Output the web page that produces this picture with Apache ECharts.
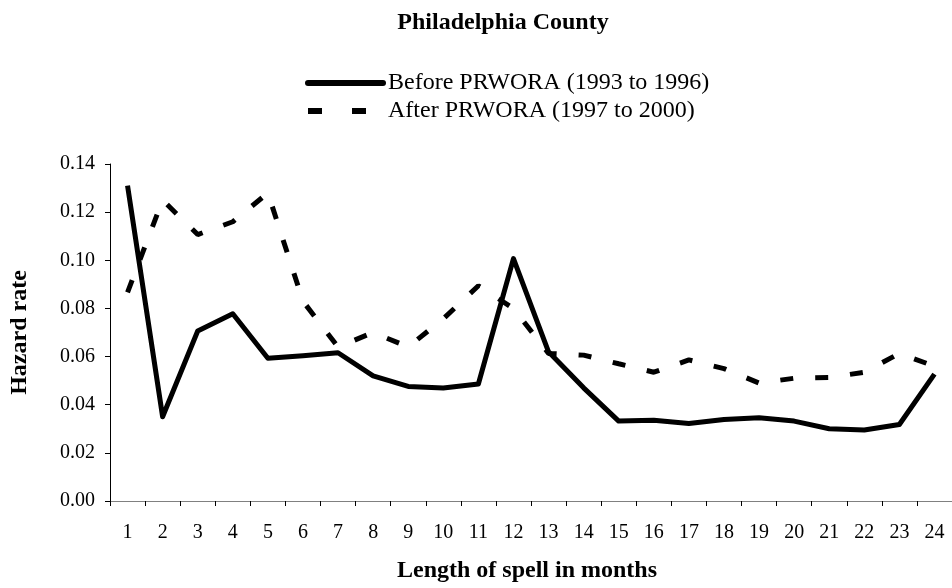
<!DOCTYPE html>
<html>
<head>
<meta charset="utf-8">
<script src="https://cdn.jsdelivr.net/npm/echarts@6/dist/echarts.min.js"></script>
<style>
html,body{margin:0;padding:0;background:#fff;}
#main{width:952px;height:588px;}
</style>
</head>
<body>
<div id="main"></div>
<script>
var months = ['1','2','3','4','5','6','7','8','9','10','11','12','13','14','15','16','17','18','19','20','21','22','23','24'];
var beforeName = 'Before PRWORA (1993 to 1996)';
var afterName = 'After PRWORA (1997 to 2000)';
var beforeRate = [0.131, 0.035, 0.0706, 0.0778, 0.0593, 0.0603, 0.0616, 0.052, 0.0476, 0.0469, 0.0486, 0.1007,
	0.062, 0.047, 0.0332, 0.0335, 0.0322, 0.0339, 0.0346, 0.0332, 0.030, 0.0295, 0.0318, 0.0527];
var afterRate = [0.0867, 0.125, 0.1107, 0.116, 0.128, 0.083, 0.064, 0.070, 0.064, 0.0757, 0.0894, 0.080,
	0.0613, 0.0606, 0.057, 0.0535, 0.0586, 0.055, 0.049, 0.051, 0.0513, 0.0535, 0.0613, 0.056];

var serif = '"Liberation Serif", "Times New Roman", serif';
// legend symbol hidden, only the line sample is kept
var noMark = {color: 'rgba(0,0,0,0)', borderWidth: 0, opacity: 0};
var chart = echarts.init(document.getElementById('main'));
var option = {
	backgroundColor: '#fff',
	animation: false,
	title: {
		text: 'Philadelphia County',
		left: 498,
		textAlign: 'center',
		top: 6,
		textStyle: {
			fontFamily: serif,
			fontSize: 24,
			fontWeight: 'bold',
			color: '#000'
		}
	},
	legend: {
		orient: 'vertical',
		left: 300,
		top: 66,
		itemWidth: 75,
		itemHeight: 14,
		itemGap: 4,
		textStyle: {
			fontFamily: serif,
			fontSize: 24,
			color: '#000'
		},
		data: [
			{name: beforeName, itemStyle: noMark, lineStyle: {width: 6, type: 'solid', cap: 'round'}},
			{name: afterName, itemStyle: noMark, lineStyle: {width: 6, type: [14, 30], cap: 'butt'}}
		]
	},
	grid: {
		left: 109,
		top: 164,
		width: 852,
		height: 340
	},
	xAxis: {
		type: 'category',
		data: months,
		boundaryGap: true,
		name: 'Length of spell in months',
		nameLocation: 'middle',
		nameGap: 58,
		nameTextStyle: {
			fontFamily: serif,
			fontSize: 24,
			fontWeight: 'bold',
			color: '#000',
			padding: [0, 8, 0, 0]
		},
		axisLine: {lineStyle: {color: '#808080', width: 1}},
		axisTick: {show: true, length: 5, lineStyle: {color: '#000'}},
		axisLabel: {
			margin: 22,
			fontFamily: serif,
			fontSize: 20,
			color: '#000'
		},
		splitLine: {show: false}
	},
	yAxis: {
		type: 'value',
		min: 0,
		max: 0.14,
		interval: 0.02,
		name: 'Hazard rate',
		nameLocation: 'middle',
		nameRotate: 90,
		nameGap: 78,
		nameTextStyle: {
			fontFamily: serif,
			fontSize: 24,
			fontWeight: 'bold',
			color: '#000'
		},
		axisLine: {show: true, lineStyle: {color: '#000', width: 1}},
		axisTick: {show: true, length: 5, lineStyle: {color: '#000'}},
		axisLabel: {
			margin: 15,
			fontFamily: serif,
			fontSize: 20,
			color: '#000',
			formatter: function (v) { return v.toFixed(2); }
		},
		splitLine: {show: false}
	},
	series: [
		{
			name: beforeName,
			type: 'line',
			data: beforeRate,
			symbol: 'none',
			lineStyle: {color: '#000', width: 5, type: 'solid', join: 'round'},
			itemStyle: {color: '#000'}
		},
		{
			name: afterName,
			type: 'line',
			data: afterRate,
			symbol: 'none',
			lineStyle: {color: '#000', width: 5, type: [13, 22], cap: 'butt'},
			itemStyle: {color: '#000'}
		}
	]
};
chart.setOption(option);
</script>
</body>
</html>
